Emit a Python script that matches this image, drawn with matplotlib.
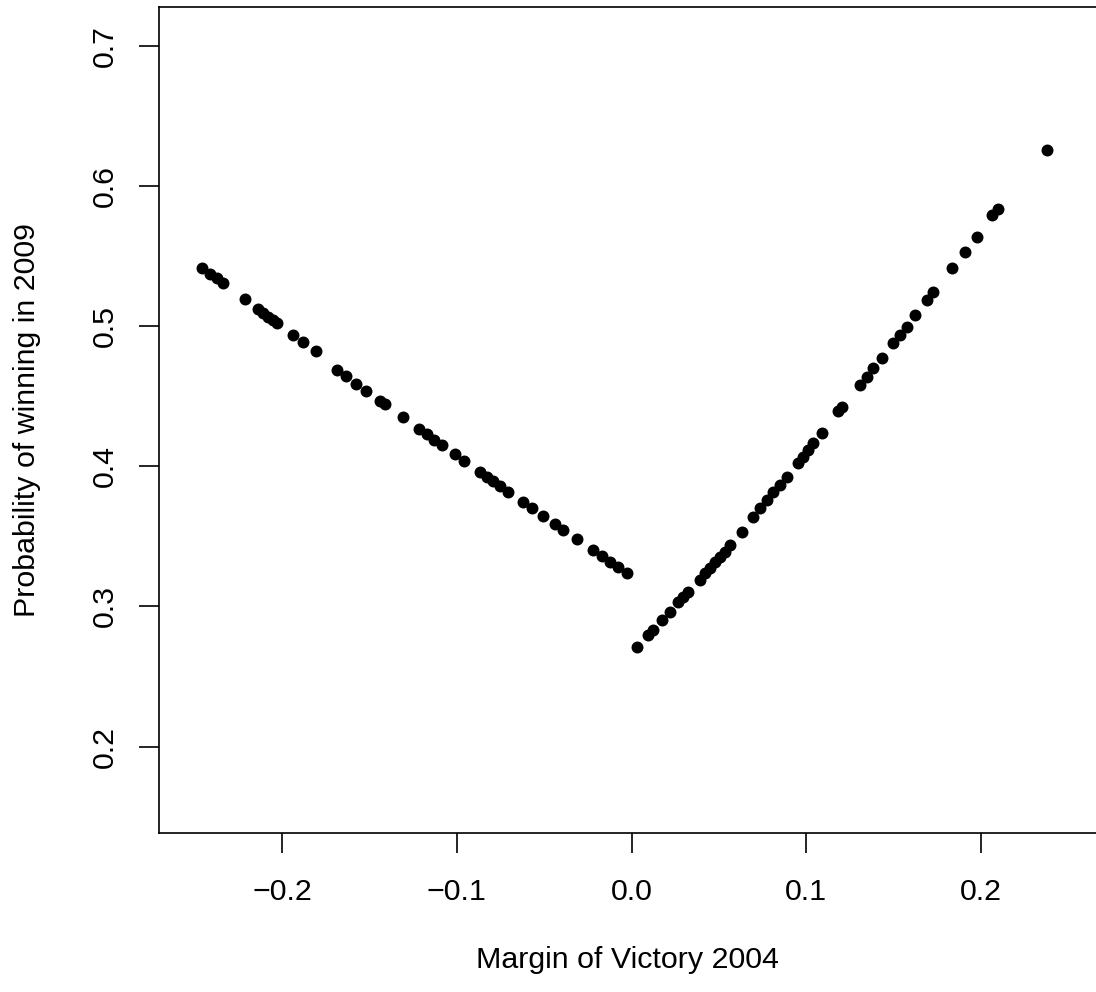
import matplotlib
matplotlib.use('Agg')
import matplotlib.pyplot as plt

plt.rcParams['font.family'] = ['Liberation Sans', 'DejaVu Sans']

# predicted probabilities, losers in 2004 (negative margin)
left_x = [-0.2461, -0.2413, -0.2375, -0.2337, -0.2213, -0.2137, -0.2108, -0.2080,
          -0.2051, -0.2028, -0.1940, -0.1879, -0.1808, -0.1688, -0.1635, -0.1578,
          -0.1521, -0.1441, -0.1412, -0.1310, -0.1215, -0.1173, -0.1131, -0.1087,
          -0.1011, -0.0960, -0.0868, -0.0830, -0.0792, -0.0754, -0.0706, -0.0620,
          -0.0572, -0.0506, -0.0439, -0.0391, -0.0315, -0.0220, -0.0172, -0.0124,
          -0.0078, -0.0029]
left_y = [0.5417, 0.5374, 0.5340, 0.5306, 0.5190, 0.5120, 0.5094, 0.5067,
          0.5041, 0.5020, 0.4940, 0.4885, 0.4820, 0.4688, 0.4641, 0.4590,
          0.4539, 0.4467, 0.4442, 0.4350, 0.4265, 0.4228, 0.4190, 0.4151,
          0.4085, 0.4041, 0.3960, 0.3927, 0.3894, 0.3861, 0.3820, 0.3745,
          0.3703, 0.3645, 0.3588, 0.3547, 0.3482, 0.3401, 0.3360, 0.3320,
          0.3281, 0.3240]

# winners in 2004 (positive margin)
right_x = [0.0029, 0.0095, 0.0124, 0.0172, 0.0219, 0.0267, 0.0295, 0.0324,
           0.0391, 0.0419, 0.0448, 0.0477, 0.0505, 0.0534, 0.0562, 0.0629,
           0.0696, 0.0734, 0.0773, 0.0810, 0.0849, 0.0887, 0.0953, 0.0982,
           0.1011, 0.1039, 0.1087, 0.1182, 0.1204, 0.1306, 0.1345, 0.1383,
           0.1431, 0.1497, 0.1535, 0.1574, 0.1621, 0.1688, 0.1726, 0.1831,
           0.1907, 0.1974, 0.2060, 0.2098, 0.2375]
right_y = [0.2713, 0.2797, 0.2832, 0.2904, 0.2963, 0.3034, 0.3070, 0.3106,
           0.3189, 0.3237, 0.3272, 0.3320, 0.3355, 0.3391, 0.3439, 0.3534,
           0.3641, 0.3700, 0.3760, 0.3819, 0.3867, 0.3926, 0.4021, 0.4068,
           0.4116, 0.4164, 0.4235, 0.4394, 0.4423, 0.4580, 0.4639, 0.4699,
           0.4770, 0.4877, 0.4937, 0.4996, 0.5079, 0.5186, 0.5245, 0.5412,
           0.5531, 0.5638, 0.5792, 0.5835, 0.6256]

x_ticks = [-0.2, -0.1, 0.0, 0.1, 0.2]
x_ticklabels = ['\u22120.2', '\u22120.1', '0.0', '0.1', '0.2']
y_ticks = [0.2, 0.3, 0.4, 0.5, 0.6, 0.7]
y_ticklabels = ['0.2', '0.3', '0.4', '0.5', '0.6', '0.7']

fig = plt.figure(figsize=(10.96, 9.92), dpi=100)
# the plot box runs past the right edge of the image, as in the original
ax = fig.add_axes([0.14535, 0.16, 0.8674, 0.83294])

ax.plot(left_x + right_x, left_y + right_y, 'o', color='black', ms=8.6,
        mec='black', mew=0, clip_on=False)

ax.set_xlim(-0.2703, 0.2737)
ax.set_ylim(0.13823, 0.7276)

ax.set_xticks(x_ticks)
ax.set_xticklabels(x_ticklabels)
ax.set_yticks(y_ticks)
ax.set_yticklabels(y_ticklabels, rotation=90, va='center')

for s in ax.spines.values():
    s.set_linewidth(1.2)
ax.tick_params(axis='both', length=14.4, width=1.2, labelsize=21.9, direction='out')
ax.tick_params(axis='x', pad=18)
ax.tick_params(axis='y', pad=15)

fig.text(627 / 1096, 1 - 960 / 992, 'Margin of Victory 2004', ha='center', va='center',
         fontsize=21.9)
fig.text(27 / 1096, 1 - 420 / 992, 'Probability of winning in 2009', ha='center',
         va='center', rotation=90, fontsize=21.9)

fig.savefig('out.png', dpi=100)
